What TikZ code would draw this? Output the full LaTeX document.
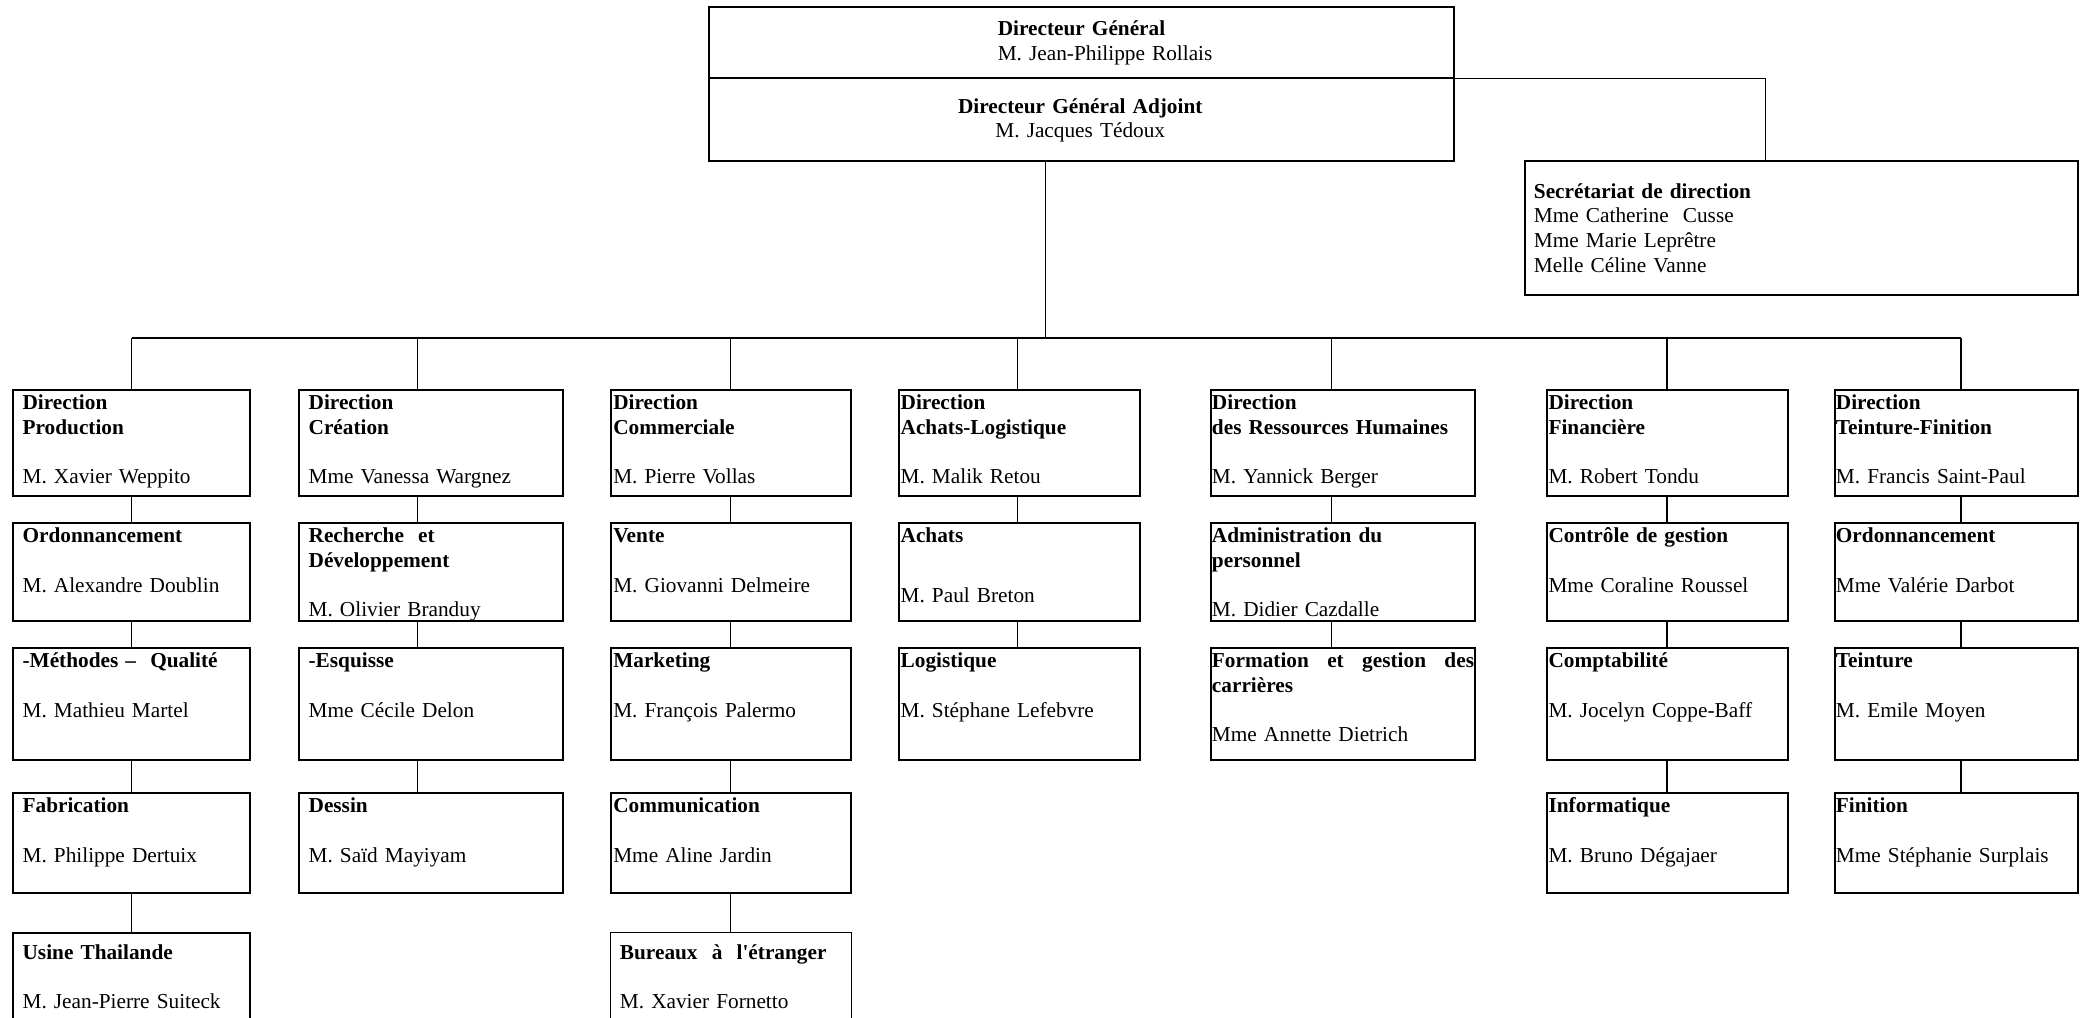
\documentclass[tikz,border=0pt]{standalone}
\usepackage{fontspec}
\setmainfont{Liberation Serif}
\usetikzlibrary{calc}
\tikzset{
  orgbox/.style={draw, line width=1.5pt, inner sep=0pt, outer sep=0pt, anchor=north west, rectangle},
  thinbox/.style={line width=0.7pt},
  tbox/.style={inner sep=0pt, outer sep=0pt, anchor=north west, align=left, text width=260pt,
               font=\fontsize{16}{18.5}\selectfont},
  link/.style={line width=1.1pt},
  thinlink/.style={line width=0.7pt},
  trunk/.style={line width=0.9pt},
}
% box: [opts]{name}{x1}{y1}{x2}{y2}
\newcommand\OBox[6][]{\node[orgbox,#1,minimum width={#5pt-#3pt},minimum height={#6pt-#4pt}] (#2) at (#3,#4) {};}
% text: [opts]{name}{x}{first baseline}{lines}
\newcommand\OTxt[5][]{\node[tbox,#1] (#2) at ({#3},{#4-12.95}) {\strut #5};}
\begin{document}
\begin{tikzpicture}[x=1pt,y=-1pt]
\clip (0,0) rectangle (1568,764.5);
\fill[white] (0,0) rectangle (1568,764.5);

% ---------- top ----------
\OBox{dg}{533}{5}{1093}{59}
\OBox{dga}{533}{59}{1093}{121}
\OTxt{dgt}{750}{27}{\textbf{Directeur Général}\\M. Jean-Philippe Rollais}
\node[tbox, anchor=north, align=center, text width=320pt] (dgat) at (812,{85-12.95})
  {\strut\textbf{Directeur Général Adjoint}\\M. Jacques Tédoux};

\OBox{secr}{1146}{121}{1562}{222}
\OTxt{secrt}{1153}{149}{\textbf{Secrétariat de direction}\\Mme Catherine\ \ Cusse\\Mme Marie Leprêtre\\Melle Céline Vanne}
\draw[link] (dg.south east) -| ($(secr.north west)+(181,0)$);

% ---------- bus ----------
\coordinate (tr) at (786,254);
\coordinate (d1) at (99,254);
\coordinate (d2) at (314,254);
\coordinate (d3) at (549,254);
\coordinate (d4) at (765,254);
\coordinate (d5) at (1001,254);
\coordinate (d6) at (1253,254);
\coordinate (d7) at (1474,254);
\draw[trunk] (dga.south -| tr) -- (tr);
\draw[trunk] (d1) -- (d7);

% ---------- column 1 ----------
\OBox{a1}{10}{293}{188}{373}
\OBox{a2}{10}{393}{188}{467}
\OBox{a3}{10}{487}{188}{571}
\OBox{a4}{10}{596}{188}{671}
\OBox{a5}{10}{701}{188}{790}
\OTxt{a1t}{17}{308}{\textbf{Direction}\\\textbf{Production}\\[18.5pt]M. Xavier Weppito}
\OTxt{a2t}{17}{408}{\textbf{Ordonnancement}\\[18.5pt]M. Alexandre Doublin}
\OTxt{a3t}{17}{502}{\textbf{-Méthodes –\ \ Qualité}\\[18.5pt]M. Mathieu Martel}
\OTxt{a4t}{17}{611}{\textbf{Fabrication}\\[18.5pt]M. Philippe Dertuix}
\OTxt{a5t}{17}{721}{\textbf{Usine Thailande}\\[18.5pt]M. Jean-Pierre Suiteck}

% ---------- column 2 ----------
\OBox{b1}{225}{293}{423}{373}
\OBox{b2}{225}{393}{423}{467}
\OBox{b3}{225}{487}{423}{571}
\OBox{b4}{225}{596}{423}{671}
\OTxt{b1t}{232}{308}{\textbf{Direction}\\\textbf{Création}\\[18.5pt]Mme Vanessa Wargnez}
\OTxt{b2t}{232}{408}{\textbf{Recherche\ \ et}\\\textbf{Développement}\\[18.5pt]M. Olivier Branduy}
\OTxt{b3t}{232}{502}{\textbf{-Esquisse}\\[18.5pt]Mme Cécile Delon}
\OTxt{b4t}{232}{611}{\textbf{Dessin}\\[18.5pt]M. Saïd Mayiyam}

% ---------- column 3 ----------
\OBox{c1}{459}{293}{640}{373}
\OBox{c2}{459}{393}{640}{467}
\OBox{c3}{459}{487}{640}{571}
\OBox{c4}{459}{596}{640}{671}
\OBox[thinbox]{c5}{459}{701}{640}{790}
\OTxt{c1t}{461}{308}{\textbf{Direction}\\\textbf{Commerciale}\\[18.5pt]M. Pierre Vollas}
\OTxt{c2t}{461}{408}{\textbf{Vente}\\[18.5pt]M. Giovanni Delmeire}
\OTxt{c3t}{461}{502}{\textbf{Marketing}\\[18.5pt]M. François Palermo}
\OTxt{c4t}{461}{611}{\textbf{Communication}\\[18.5pt]Mme Aline Jardin}
\OTxt{c5t}{466}{721}{\textbf{Bureaux\ \ à\ \ l\textquotesingle étranger}\\[18.5pt]M. Xavier Fornetto}

% ---------- column 4 ----------
\OBox{e1}{676}{293}{857}{373}
\OBox{e2}{676}{393}{857}{467}
\OBox{e3}{676}{487}{857}{571}
\OTxt{e1t}{677}{308}{\textbf{Direction}\\\textbf{Achats-Logistique}\\[18.5pt]M. Malik Retou}
\OTxt{e2t}{677}{408}{\textbf{Achats}\\[26.5pt]M. Paul Breton}
\OTxt{e3t}{677}{502}{\textbf{Logistique}\\[18.5pt]M. Stéphane Lefebvre}

% ---------- column 5 ----------
\OBox{f1}{910}{293}{1109}{373}
\OBox{f2}{910}{393}{1109}{467}
\OBox{f3}{910}{487}{1109}{571}
\OTxt{f1t}{911}{308}{\textbf{Direction}\\\textbf{des Ressources Humaines}\\[18.5pt]M. Yannick Berger}
\OTxt{f2t}{911}{408}{\textbf{Administration du}\\\textbf{personnel}\\[18.5pt]M. Didier Cazdalle}
\OTxt{f3t}{911}{502}{\hbox to 197pt{\bfseries Formation\hfill et\hfill gestion\hfill des}\\\textbf{carrières}\\[18.5pt]Mme Annette Dietrich}

% ---------- column 6 ----------
\OBox{g1}{1163}{293}{1344}{373}
\OBox{g2}{1163}{393}{1344}{467}
\OBox{g3}{1163}{487}{1344}{571}
\OBox{g4}{1163}{596}{1344}{671}
\OTxt{g1t}{1164}{308}{\textbf{Direction}\\\textbf{Financière}\\[18.5pt]M. Robert Tondu}
\OTxt{g2t}{1164}{408}{\textbf{Contrôle de gestion}\\[18.5pt]Mme Coraline Roussel}
\OTxt{g3t}{1164}{502}{\textbf{Comptabilité}\\[18.5pt]M. Jocelyn Coppe-Baff}
\OTxt{g4t}{1164}{611}{\textbf{Informatique}\\[18.5pt]M. Bruno Dégajaer}

% ---------- column 7 ----------
\OBox{h1}{1379}{293}{1562}{373}
\OBox{h2}{1379}{393}{1562}{467}
\OBox{h3}{1379}{487}{1562}{571}
\OBox{h4}{1379}{596}{1562}{671}
\OTxt{h1t}{1380}{308}{\textbf{Direction}\\\textbf{Teinture-Finition}\\[18.5pt]M. Francis Saint-Paul}
\OTxt{h2t}{1380}{408}{\textbf{Ordonnancement}\\[18.5pt]Mme Valérie Darbot}
\OTxt{h3t}{1380}{502}{\textbf{Teinture}\\[18.5pt]M. Emile Moyen}
\OTxt{h4t}{1380}{611}{\textbf{Finition}\\[18.5pt]Mme Stéphanie Surplais}

% ---------- drops from bus ----------
\draw[link] (d1) -- (d1 |- a1.north);
\draw[link] (d2) -- (d2 |- b1.north);
\draw[link] (d3) -- (d3 |- c1.north);
\draw[link] (d4) -- (d4 |- e1.north);
\draw[link] (d5) -- (d5 |- f1.north);
\draw[link] (d6) -- (d6 |- g1.north);
\draw[link] (d7) -- (d7 |- h1.north);

% ---------- vertical links ----------
\draw[link] (a1.south -| d1) -- (a2.north -| d1);
\draw[link] (a2.south -| d1) -- (a3.north -| d1);
\draw[link] (a3.south -| d1) -- (a4.north -| d1);
\draw[link] (a4.south -| d1) -- (a5.north -| d1);
\draw[link] (b1.south -| d2) -- (b2.north -| d2);
\draw[link] (b2.south -| d2) -- (b3.north -| d2);
\draw[link] (b3.south -| d2) -- (b4.north -| d2);
\draw[link] (c1.south -| d3) -- (c2.north -| d3);
\draw[link] (c2.south -| d3) -- (c3.north -| d3);
\draw[link] (c3.south -| d3) -- (c4.north -| d3);
\draw[thinlink] (c4.south -| d3) -- (c5.north -| d3);
\draw[link] (e1.south -| d4) -- (e2.north -| d4);
\draw[link] (e2.south -| d4) -- (e3.north -| d4);
\draw[link] (f1.south -| d5) -- (f2.north -| d5);
\draw[link] (f2.south -| d5) -- (f3.north -| d5);
\draw[link] (g1.south -| d6) -- (g2.north -| d6);
\draw[link] (g2.south -| d6) -- (g3.north -| d6);
\draw[link] (g3.south -| d6) -- (g4.north -| d6);
\draw[link] (h1.south -| d7) -- (h2.north -| d7);
\draw[link] (h2.south -| d7) -- (h3.north -| d7);
\draw[link] (h3.south -| d7) -- (h4.north -| d7);
\end{tikzpicture}
\end{document}
